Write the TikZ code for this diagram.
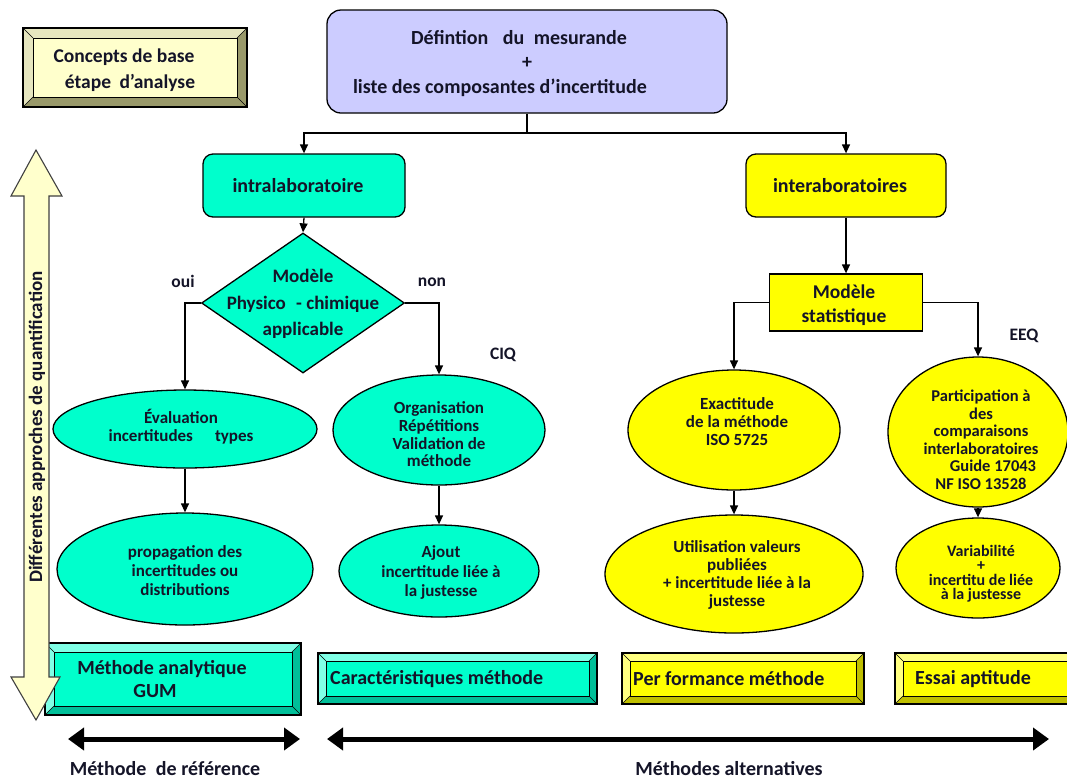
\documentclass[tikz,border=0pt]{standalone}
\usepackage{fontspec}
\setmainfont{Carlito}
\usetikzlibrary{shapes.geometric,arrows.meta,calc}
\definecolor{aqua}{HTML}{00FFCC}
\definecolor{aqualt}{HTML}{80FFE6}
\definecolor{aquadk}{HTML}{00BF99}
\definecolor{yel}{HTML}{FFFF00}
\definecolor{yellt}{HTML}{FFFF80}
\definecolor{yeldk}{HTML}{BFBF00}
\definecolor{lav}{HTML}{CCCCFF}
\definecolor{cream}{HTML}{FFFFCC}
\definecolor{creamlt}{HTML}{E6E6BF}
\definecolor{creamdk}{HTML}{99996A}
\definecolor{ink}{HTML}{141428}
\newcommand\bevframe[8]{%
  \fill[#7] (#1,#2) rectangle (#3,#4);
  \fill[#6] (#1,#2) -- (#3,#2) -- ({#3-#5},{#2+#5}) -- ({#1+#5},{#2+#5}) -- ({#1+#5},{#4-#5}) -- (#1,#4) -- cycle;
  \fill[#8] ({#1+#5},{#2+#5}) rectangle ({#3-#5},{#4-#5});
  \draw[line width=1.2pt] (#1,#2) rectangle (#3,#4);
  \draw[line width=1pt] ({#1+#5},{#2+#5}) rectangle ({#3-#5},{#4-#5});
  \draw[line width=0.6pt] (#1,#2) -- ({#1+#5},{#2+#5}) (#3,#2) -- ({#3-#5},{#2+#5})
     (#3,#4) -- ({#3-#5},{#4-#5}) (#1,#4) -- ({#1+#5},{#4-#5});
}
\tikzset{
  base/.style={inner sep=0pt, text=ink},
  rbox/.style={base, draw, line width=1.3pt, rounded corners=10pt},
  sbox/.style={base, draw, line width=1.3pt},
  ell/.style={base, draw, line width=1.3pt, shape=ellipse},
  dia/.style={base, draw, line width=1.3pt, shape=diamond},
  big/.style={base, font=\bfseries\fontsize{20}{24}\selectfont, align=center},
  mid/.style={base, font=\bfseries\fontsize{19.5}{26}\selectfont, align=center},
  small/.style={base, font=\bfseries\fontsize{17}{18}\selectfont, align=center},
  tag/.style={base, font=\bfseries\fontsize{17.5}{20}\selectfont},
  conn/.style={line width=1.3pt, -{Triangle[length=9pt,width=8pt]}},
  plain/.style={line width=1.3pt},
  dbl/.style={line width=5pt, {Triangle[length=16pt,width=22pt]}-{Triangle[length=16pt,width=22pt]}}
}
\begin{document}
\begin{tikzpicture}[x=1pt,y=-1pt]
\path[use as bounding box] (0,0) rectangle (1067,780);
\clip (0,0) rectangle (1067,780);
\fill[white] (0,0) rectangle (1067,780);

% concept box
\bevframe{23}{28}{247}{107}{10}{creamlt}{creamdk}{cream}
\node[mid] (concept) at (124,70) {Concepts de base\\\rule{12pt}{0pt}étape\hspace{4pt} d’analyse};

% top box
\node[rbox, fill=lav, minimum width=400pt, minimum height=103pt, rounded corners=14pt] (top) at (527,61.5) {};
\node[big, font=\bfseries\fontsize{20}{24.5}\selectfont] (topT) at (527,63.5)
  {Défintion\hspace{10pt} du\hspace{5pt} mesurande\rule{16pt}{0pt}\\+\\liste des composantes d’incertitude\rule{54pt}{0pt}};

% level 1
\node[rbox, fill=aqua, minimum width=202pt, minimum height=63pt] (intra) at (304,185.5) {};
\node[big] (intraT) at (298,186) {intralaboratoire};
\node[rbox, fill=yel, minimum width=200pt, minimum height=63pt] (inter) at (846,185.5) {};
\node[big] (interT) at (840,186) {interaboratoires};

\coordinate (j) at (527,133);
\draw[plain] (top.south) -- (j);
\draw[conn] (j) -| (intra.north);
\draw[conn] (j) -| (inter.north);

% decision
\node[dia, fill=aqua, minimum width=203pt, minimum height=140pt] (dec) at (303,303) {};
\node[big, font=\bfseries\fontsize{19}{26.5}\selectfont] (decT) at (303,304) {Modèle\\Physico\hspace{6pt} - chimique\\applicable};
\draw[conn] (intra.south) -- (dec.north);

\node[tag] (oui) at (183,281) {oui};
\node[tag] (non) at (432,282) {non};
\node[tag] (ciq) at (503,355) {CIQ};

% left column ellipses
\node[ell, fill=aqua, minimum width=264pt, minimum height=78pt] (eval) at (185,429) {};
\node[small] (evalT) at (181,427) {Évaluation\\incertitudes\hspace{22pt}types};
\node[ell, fill=aqua, minimum width=256pt, minimum height=112pt] (prop) at (185,569) {};
\node[small, font=\bfseries\fontsize{17}{19}\selectfont] (propT) at (185,571) {propagation des\\incertitudes ou\\distributions};
\node[ell, fill=aqua, minimum width=212pt, minimum height=110pt] (org) at (439,430) {};
\node[small, font=\bfseries\fontsize{17}{17.7}\selectfont] (orgT) at (439,434.5) {Organisation\\Répétitions\\Validation de\\méthode};
\node[ell, fill=aqua, minimum width=200pt, minimum height=92pt] (ajout) at (439,571) {};
\node[small, font=\bfseries\fontsize{17}{19.5}\selectfont] (ajoutT) at (441,572.5) {Ajout\\incertitude liée à\\la justesse};

\draw[conn] (dec.west) -| (eval.north);
\draw[conn] (dec.east) -| (org.north);
\draw[conn] (eval.south) -- (prop.north);
\draw[conn] (org.south) -- (ajout.north);

% right side
\node[sbox, fill=yel, minimum width=153pt, minimum height=57pt] (stat) at (846,302.5) {};
\node[mid, font=\bfseries\fontsize{19.5}{24}\selectfont] (statT) at (844,305) {Modèle\\statistique};
\draw[conn] (inter.south) -- (stat.north);
\node[tag] (eeq) at (1024,336) {EEQ};

\node[ell, fill=yel, minimum width=212pt, minimum height=120pt] (exact) at (734,430) {};
\node[small] (exactT) at (737,422) {Exactitude\\de la méthode\\ISO 5725};
\node[ell, fill=yel, minimum width=180pt, minimum height=150pt] (part) at (978,432) {};
\node[small, font=\bfseries\fontsize{16.5}{17.5}\selectfont] (partT) at (981,439.5) {Participation à\\des\\comparaisons\\interlaboratoires\\\hspace*{24pt}Guide 17043\\NF ISO 13528};
\node[ell, fill=yel, minimum width=258pt, minimum height=118pt] (util) at (734,574) {};
\node[small] (utilT) at (737,574.5) {Utilisation valeurs\\publiées\\+ incertitude liée à la\\justesse};
\node[ell, fill=yel, minimum width=164pt, minimum height=100pt] (var) at (978,568) {};
\node[small, font=\bfseries\fontsize{16}{14.5}\selectfont] (varT) at (981,573.5) {Variabilité\\+\\incertitu de liée\\à la justesse};

\draw[conn] (stat.west) -| (exact.north);
\draw[conn] (stat.east) -| (part.north);
\draw[conn] (exact.south) -- (util.north);
\draw[conn] (part.south) -- (var.north);

% bottom boxes
\bevframe{45}{643}{301}{715}{9}{aqualt}{aquadk}{aqua}
\node[big, font=\bfseries\fontsize{20}{23}\selectfont] (gum) at (162,679) {Méthode analytique\\GUM\rule{14pt}{0pt}};
\bevframe{318}{653}{597}{704}{8}{aqualt}{aquadk}{aqua}
\node[big, anchor=west] (caract) at (330,679) {Caractéristiques méthode};
\bevframe{622}{653}{864}{704}{8}{yellt}{yeldk}{yel}
\node[big, anchor=west] (perf) at (633,679) {Per formance méthode};
\bevframe{895}{653}{1080}{704}{8}{yellt}{yeldk}{yel}
\node[big, anchor=west] (essai) at (915,679) {Essai aptitude};

% vertical block arrow
\draw[fill=cream, draw=black!75, line width=1.1pt]
  (36,150) -- (62,196) -- (49,196) -- (49,677) -- (60,677) -- (36,720)
  -- (11,677) -- (24,677) -- (24,196) -- (11,196) -- cycle;
\node[base, rotate=90, font=\bfseries\fontsize{19}{20}\selectfont] (vlab) at (37,427) {Différentes approches de quantification};

% bottom double arrows
\coordinate (r1) at (68,739);
\coordinate (r2) at (300,739);
\coordinate (a1) at (327,739);
\coordinate (a2) at (1049,739);
\draw[dbl] (r1) -- (r2);
\draw[dbl] (a1) -- (a2);
\node[big] (ref) at (165,769) {Méthode\hspace{5pt} de référence};
\node[big] (alt) at (729,769) {Méthodes alternatives};
\end{tikzpicture}
\end{document}
